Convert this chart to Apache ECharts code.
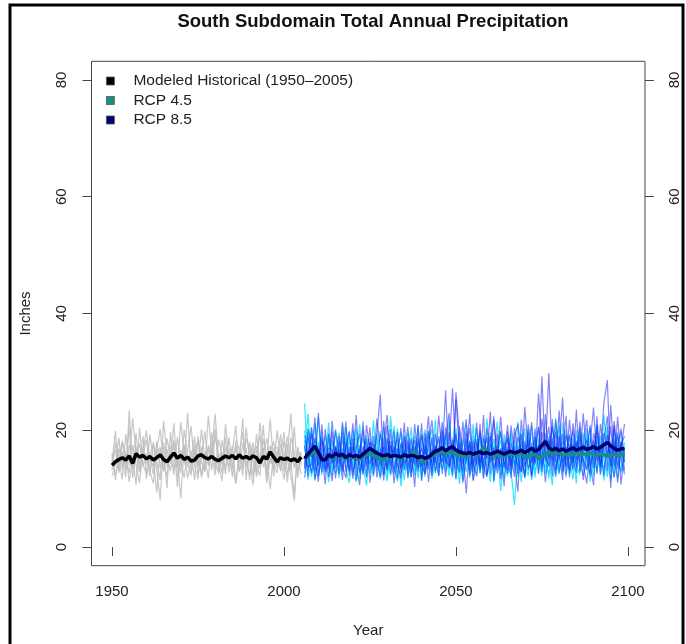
<!DOCTYPE html>
<html>
<head>
<meta charset="utf-8">
<script src="https://cdn.jsdelivr.net/npm/echarts@6.0.0/dist/echarts.min.js"></script>
<style>
  html, body { margin: 0; padding: 0; background: #fff; }
  #chart { width: 686px; height: 644px; }
</style>
</head>
<body>
<div id="chart"></div>
<script>
// years
const histYears = Array.from({ length: 56 }, (_, i) => 1950 + i);   // 1950-2005
const futureYears = Array.from({ length: 94 }, (_, i) => 2006 + i); // 2006-2099
const xTicks = [1950, 2000, 2050, 2100];
const yTicks = [0, 20, 40, 60, 80];

// modeled historical ensemble members (grey)
const hist1 = [13.2,17.8,15.1,11.6,19.4,14.0,22.1,16.3, 12.8,15.9,18.4,13.1,10.9,16.7,20.2,14.5, 12.0,17.3,15.8,13.6,21.4,16.0,11.8,14.9, 18.9,12.4,15.5,19.8,13.9,16.6,22.8,14.2, 11.3,17.1,15.0,13.4,18.2,16.9,12.2,20.5, 14.8,10.6,16.4,19.1,13.7,15.3,21.9,14.1, 12.7,17.6,15.6,11.1,18.7,16.2,13.0,15.7];
const hist2 = [16.1,12.3,14.7,18.2,13.5,20.6,11.9,15.4, 17.7,14.0,12.6,19.3,15.2,9.4,16.8,13.3, 18.6,15.0,21.2,12.1,14.4,17.0,13.8,16.5, 11.4,19.0,14.6,12.9,17.4,15.7,20.3,13.0, 16.2,12.5,18.8,14.3,10.8,16.0,19.6,13.7, 15.5,17.9,12.0,14.9,20.9,11.7,16.3,18.1, 13.6,15.8,19.7,12.4,14.6,8.8,17.2,14.0];
const hist3 = [14.5,19.9,12.7,16.4,13.1,17.5,15.2,10.7, 20.4,13.9,16.1,12.2,18.0,14.7,11.5,21.6, 15.6,13.0,17.8,10.3,16.6,14.1,23.0,12.8, 15.9,18.3,11.9,14.4,16.9,13.2,19.2,15.1, 12.6,21.1,14.9,17.3,11.0,15.8,13.5,18.5, 16.7,12.1,19.4,14.2,17.0,10.9,15.4,13.3, 20.0,14.8,11.6,16.1,22.9,13.8,15.3,12.5];
const hist4 = [12.1,14.2,18.7,13.4,16.0,11.2,14.8,19.5, 13.0,17.2,14.3,15.8,12.5,18.1,13.6,16.2, 10.1,19.7,13.2,15.4,8.3,17.6,14.0,12.3, 16.8,13.7,20.1,15.2,11.8,17.9,14.5,12.6, 18.3,15.1,13.8,16.5,20.8,12.9,14.7,17.0, 11.5,16.9,14.0,12.2,18.5,15.6,9.9,16.4, 14.3,19.3,12.9,17.7,13.1,20.6,11.9,16.1];
const hist5 = [15.8,11.4,16.9,14.6,12.0,23.4,13.3,17.1, 14.2,19.0,11.7,15.5,17.6,13.4,8.1,17.9, 13.7,16.2,12.4,18.9,14.8,11.9,16.4,20.7, 14.0,11.6,17.2,13.1,22.5,16.0,12.3,18.4, 15.7,13.6,16.8,12.0,17.5,14.4,22.0,11.4, 18.0,14.5,12.8,21.3,15.9,13.2,17.4,12.1, 16.6,13.0,18.2,14.9,12.3,7.9,16.7,14.4];
const hist6 = [14.9,16.6,13.0,18.1,15.7,12.6,17.4,14.1, 11.0,16.4,20.0,15.1,13.8,15.9,17.1,12.9, 16.7,14.3,18.3,15.2,12.7,20.1,15.5,13.9, 17.5,14.8,12.5,16.3,14.2,19.6,13.5,16.0, 14.1,18.7,12.8,15.6,16.7,13.0,17.8,14.6, 12.4,15.9,17.3,13.6,16.1,18.6,14.3,16.8, 17.1,13.2,15.2,18.9,16.0,13.5,14.9,16.3];

// RCP 4.5 ensemble members (cyan)
const rcp45a = [24.6,13.2,17.9,11.4,15.8,19.7,12.6,16.3,14.1,20.2, 11.8,16.9,14.4,18.6,12.3,15.1,21.0,13.7,10.5,17.4, 15.2,19.3,12.9,16.0,13.6,22.4,14.8,11.2,17.7,15.4, 12.7,18.1,14.2,20.8,11.5,16.6,13.9,18.9,15.0,12.1, 17.5,14.6,21.6,13.0,16.2,10.8,18.4,15.7,12.6,19.1, 14.3,16.8,11.9,22.0,15.5,13.4,17.2,9.6,16.1,18.7, 13.1,7.2,15.9,19.5,14.0,12.2,17.8,15.3,20.6,13.5, 16.4,11.7,18.2,14.7,12.4,21.3,15.6,13.3,17.1,10.9, 19.8,14.5,16.7,12.0,18.0,15.1,13.6,22.7,14.9,11.3, 17.6,15.8,12.8,16.5];
const rcp45b = [14.1,19.8,12.0,16.7,22.3,13.5,15.9,11.1,18.4,14.6, 17.2,12.8,20.5,15.3,13.9,18.0,11.6,16.4,19.1,13.0, 21.7,14.4,16.9,12.5,18.8,15.0,13.2,17.6,10.4,16.2, 19.5,13.7,15.6,11.8,17.3,20.1,14.0,12.4,16.8,18.5, 13.3,15.9,12.2,18.7,14.8,17.0,11.4,20.9,15.2,13.6, 17.9,12.7,15.4,13.8,19.6,11.0,16.3,18.2,14.5,12.1, 16.0,14.2,21.4,12.9,15.7,18.6,11.5,16.9,14.0,17.3, 12.6,19.0,15.1,22.1,13.4,15.8,11.9,17.7,14.3,20.0, 13.1,16.6,18.9,11.2,15.4,17.5,12.3,16.1,19.4,13.9, 15.0,11.7,18.1,14.4];
const rcp45c = [18.3,11.5,15.2,21.2,13.8,16.5,19.0,14.0,12.2,17.1, 15.0,20.9,13.3,11.0,16.7,18.9,14.5,12.6,17.8,15.6, 12.0,16.4,19.9,14.1,11.3,17.3,15.8,20.3,13.6,18.0, 14.8,11.9,17.0,15.4,19.3,13.1,16.9,14.3,21.8,12.7, 15.9,19.4,13.8,16.4,11.6,17.8,14.9,12.9,18.2,15.5, 20.4,14.0,17.5,12.3,15.1,18.5,13.2,16.6,11.8,15.8, 18.8,13.9,16.2,11.1,17.6,14.5,20.7,12.6,16.0,13.7, 17.9,15.3,10.6,16.8,19.2,14.1,17.0,12.5,15.7,18.3, 14.7,12.2,17.2,20.4,13.5,16.3,19.0,14.8,12.0,17.7, 13.4,19.1,15.6,12.9];
const rcp45d = [12.7,16.0,20.4,14.3,18.1,12.4,15.6,19.2,13.1,16.8, 19.6,14.2,16.1,12.9,20.0,13.4,17.5,15.0,12.1,18.6, 14.0,17.1,13.5,20.6,15.6,12.2,18.3,14.7,16.5,11.4, 17.4,15.1,12.3,18.2,13.6,15.9,19.7,11.7,14.4,17.0, 20.2,12.8,15.5,17.7,14.1,19.8,12.0,16.1,13.9,21.1, 12.5,18.8,14.6,16.3,11.2,17.4,15.0,19.9,13.3,16.7, 14.1,18.3,12.0,15.4,20.3,13.0,16.8,11.9,18.5,15.2, 13.6,17.2,20.8,12.4,16.0,18.1,13.9,15.5,11.6,17.8, 16.0,19.6,13.3,15.9,12.1,18.4,14.6,16.9,20.5,12.8, 18.6,13.9,16.4,14.7];
const rcp45e = [16.5,22.8,14.6,12.8,17.3,15.0,13.3,18.5,16.1,12.6, 13.9,18.3,15.7,19.7,14.0,11.2,16.2,18.8,14.4,12.7, 17.6,13.0,15.5,18.6,12.1,16.0,20.7,13.5,14.9,19.2, 12.3,16.6,19.0,13.4,15.8,12.0,17.6,20.2,13.0,15.7, 14.4,18.0,16.7,11.9,19.5,13.7,15.8,18.5,12.3,14.6, 16.9,13.1,19.2,15.3,17.7,12.8,14.5,13.2,19.3,14.0, 12.5,16.6,14.8,17.9,11.8,16.1,13.4,19.0,15.6,12.2, 19.5,14.0,16.3,13.0,17.4,12.7,20.1,15.2,18.6,14.1, 12.4,17.7,15.0,18.8,13.7,21.0,16.2,13.4,15.8,18.1, 12.0,16.9,19.7,15.3];
const rcp45f = [20.0,14.8,13.0,18.8,12.1,16.9,14.5,21.3,12.9,15.3, 12.4,15.6,18.9,13.4,16.5,20.3,12.9,14.8,17.2,15.5, 13.3,18.7,11.6,15.2,17.4,14.1,12.4,16.1,19.6,13.2, 16.2,20.5,13.1,16.5,12.4,18.7,15.0,13.3,17.3,14.8, 18.9,13.6,17.2,15.1,20.4,12.6,16.6,14.2,17.9,11.5, 15.6,19.5,13.0,17.3,14.4,16.0,21.5,12.4,17.5,14.9, 19.6,12.9,17.4,14.3,16.5,20.1,14.7,18.0,12.7,16.4, 15.0,12.3,17.5,15.6,20.9,13.5,16.6,19.3,13.0,15.4, 18.2,13.8,20.2,14.6,17.0,12.9,18.1,11.4,16.7,14.3, 20.2,14.2,13.1,17.9];

// RCP 8.5 ensemble members (blue)
const rcp85a = [13.6,18.9,15.4,22.2,12.2,16.0,10.7,19.5,14.3,17.0, 12.6,21.4,15.8,13.1,18.6,11.4,16.5,20.1,13.8,17.7, 14.9,19.2,26.1,12.3,16.4,18.1,10.9,15.6,20.4,13.2, 17.9,12.0,21.1,15.2,13.9,19.5,11.1,16.8,14.4,22.5, 15.7,26.8,13.4,18.3,11.6,20.7,16.1,9.2,17.6,14.0, 21.3,12.7,18.6,15.1,23.2,11.3,16.9,19.8,13.6,17.1, 11.8,20.4,15.5,13.0,24.0,16.6,12.3,18.8,15.0,29.2, 14.6,18.4,12.1,21.7,15.9,11.5,19.2,16.8,13.4,23.5, 12.8,17.5,21.8,14.1,10.6,19.7,15.3,24.6,28.6,13.7, 18.2,11.0,16.7,21.1];
const rcp85b = [17.4,12.1,20.5,14.6,11.2,18.3,15.9,13.3,21.6,15.0, 19.0,14.0,11.8,17.1,15.2,22.6,12.7,16.0,18.5,11.0, 16.8,13.7,19.4,15.9,20.8,12.5,17.2,14.2,11.8,18.9, 13.5,16.9,10.3,18.7,14.1,12.6,17.8,21.7,15.6,12.2, 19.8,14.3,17.0,27.2,15.4,12.8,21.5,14.7,18.2,11.3, 15.2,19.9,14.1,12.0,17.3,21.8,15.5,13.7,18.0,12.6, 17.8,14.6,9.5,19.3,13.8,16.0,21.4,14.4,17.5,12.9, 22.8,15.1,18.7,13.2,17.0,25.6,12.4,16.4,20.0,14.9, 17.3,11.5,16.0,20.9,13.5,22.4,12.6,18.0,15.6,20.7, 13.9,22.3,15.0,12.5];
const rcp85c = [11.9,16.2,19.3,13.0,23.0,14.4,17.6,12.0,15.8,19.9, 16.4,11.5,18.0,14.5,21.2,13.6,10.6,17.3,15.0,20.5, 12.4,16.6,14.0,21.6,13.1,17.4,15.3,19.7,12.6,16.1, 20.6,14.5,17.3,12.9,19.1,15.9,22.4,13.4,16.2,19.0, 12.5,18.6,22.9,14.0,25.3,16.4,13.0,19.6,11.9,16.8, 18.5,13.6,22.6,12.3,16.2,14.8,19.4,11.6,15.7,20.9, 13.9,17.2,12.5,21.8,14.9,18.1,11.9,16.3,20.6,14.2, 16.0,29.8,15.4,12.0,18.9,14.4,17.1,13.1,21.2,16.6, 20.4,15.0,13.2,17.6,23.9,14.7,16.8,12.2,19.2,15.4, 11.9,17.5,20.3,14.6];
const rcp85d = [15.2,13.7,14.1,18.6,16.1,12.9,20.2,14.8,11.3,17.3, 14.3,19.6,12.9,16.3,11.7,17.0,19.4,12.4,15.9,14.2, 19.0,11.9,15.5,17.2,13.2,20.2,12.8,16.9,14.6,21.3, 11.8,15.6,18.3,13.7,21.2,12.4,15.8,14.6,19.4,13.5, 16.9,12.0,19.7,15.8,13.3,17.9,11.0,15.3,22.8,14.4, 12.1,16.5,13.5,20.4,14.7,17.0,12.6,15.8,10.4,18.6, 15.4,12.0,18.9,16.2,11.9,21.0,16.8,14.1,26.3,17.6, 11.1,16.9,20.5,17.3,12.8,16.2,22.5,11.9,17.7,13.6, 19.1,14.2,10.9,16.4,18.4,12.5,21.1,16.7,13.0,24.3, 15.8,19.6,10.7,17.0];
const rcp85e = [19.1,15.6,12.6,16.8,14.0,21.0,13.4,17.0,16.6,11.8, 18.1,15.1,21.5,12.2,17.3,14.7,16.8,13.0,20.9,16.3, 13.8,22.0,16.9,11.4,18.5,15.0,19.8,11.7,17.9,14.4, 15.0,18.7,14.0,20.9,11.3,17.5,13.3,18.6,12.7,16.3, 21.4,15.1,13.8,16.5,19.3,14.5,17.7,21.9,13.2,18.1, 14.0,21.1,11.7,16.7,19.0,13.5,15.4,22.3,14.8,13.0, 20.8,16.3,14.0,12.8,18.2,13.4,15.0,20.3,12.5,19.7, 15.8,13.7,21.9,14.6,23.4,12.9,15.6,19.1,14.5,18.0, 14.6,22.9,15.6,12.4,19.5,16.8,14.1,18.3,22.4,10.1, 21.6,15.2,18.0,13.3];
const rcp85f = [13.4,20.3,17.1,11.6,15.4,18.8,12.9,14.4,19.8,13.5, 16.7,13.0,17.2,19.9,12.8,15.6,14.1,21.5,11.9,18.0, 17.5,14.6,12.0,17.8,22.6,13.9,16.5,18.5,13.4,15.9, 18.4,12.8,16.1,14.6,17.0,14.0,19.9,12.2,17.4,16.0, 14.6,20.5,15.3,12.4,26.5,19.1,14.2,16.9,20.4,12.8, 17.9,14.5,16.1,18.8,12.5,22.4,13.8,17.0,15.2,19.7, 13.2,18.9,21.1,15.5,12.1,19.6,14.3,17.2,14.8,22.0, 17.2,20.6,13.8,19.8,14.9,19.4,13.7,21.8,15.1,12.7, 21.5,16.3,18.4,13.9,16.0,20.8,13.6,19.5,17.1,15.9, 20.9,13.4,17.4,19.0];

// ensemble means
const histMean = [14.0,14.6,15.0,15.3,14.9,15.6,14.3,16.0, 15.4,15.7,15.1,15.5,14.9,15.3,15.8,15.0, 14.6,15.4,16.1,15.2,15.7,15.0,15.4,14.7, 14.9,15.6,15.8,15.3,15.1,15.5,15.0,14.8, 15.2,15.6,15.3,15.7,15.1,15.8,15.2,15.5, 15.1,15.6,15.3,14.4,15.5,15.1,16.3,15.4, 14.6,15.3,15.0,15.2,14.8,15.1,14.6,15.4];
const rcp45Mean = [15.0,15.6,16.0,16.4,15.7,15.1,15.3,15.6,15.2,15.7, 15.4,15.6,15.1,15.5,15.3,15.4,15.0,15.5,15.8,16.1, 15.7,15.3,15.0,14.9,15.2,15.6,15.9,15.4,15.1,15.5, 15.8,15.3,16.6,15.2,14.6,15.0,15.3,15.6,15.9,16.2, 16.4,16.0,16.3,16.1,15.8,15.6,15.9,15.5,15.8,16.0, 15.7,16.2,17.1,16.4,15.8,15.5,15.9,15.7,15.6,15.8, 16.0,15.7,15.9,16.2,15.6,15.4,15.8,15.9,15.3,15.5, 15.8,16.3,15.9,16.5,16.1,15.7,16.0,15.6,15.9,16.2, 15.8,16.0,15.7,16.1,15.9,15.6,16.0,15.8,15.5,15.7, 15.9,15.6,15.8,16.0];
const rcp85Mean = [15.2,15.9,16.6,17.3,16.2,15.0,14.9,15.8,15.4,16.1, 15.6,15.9,15.3,15.8,15.5,15.7,15.4,15.9,16.4,16.9, 16.5,16.1,15.8,15.6,15.9,15.5,15.7,15.6,15.4,15.8, 15.5,15.7,15.6,15.3,15.5,15.2,15.4,15.9,16.4,16.6, 17.0,16.5,16.9,17.2,16.6,16.3,16.1,16.0,16.2,15.9, 16.1,16.3,16.0,16.2,15.9,16.1,16.4,16.2,15.9,16.2, 16.4,16.1,16.3,16.6,16.2,16.5,16.9,16.4,16.7,17.4, 18.1,17.0,16.6,16.9,16.5,16.8,16.4,16.7,17.0,16.6, 16.8,17.1,16.7,16.9,17.2,16.8,17.1,17.5,17.9,17.3, 16.9,16.6,16.8,16.9];

const histMembers = [hist1, hist2, hist3, hist4, hist5, hist6];
const rcp45Members = [rcp45a, rcp45b, rcp45c, rcp45d, rcp45e, rcp45f];
const rcp85Members = [rcp85a, rcp85b, rcp85c, rcp85d, rcp85e, rcp85f];

const HIST_NAME = 'Modeled Historical (1950\u20132005)';
const FONT = '"Liberation Sans", Arial, Helvetica, sans-serif';

function line(name, years, vals, color, width, opacity) {
  return {
    name: name,
    type: 'line',
    data: years.map((y, i) => [y, vals[i]]),
    showSymbol: false,
    symbol: 'none',
    silent: true,
    lineStyle: { color: color, width: width, opacity: opacity },
    itemStyle: { color: color }
  };
}

const series = [];
histMembers.forEach((m, i) => series.push(line('hist' + i, histYears, m, '#bdbdbd', 1.2, 0.85)));
rcp45Members.forEach((m, i) => series.push(line('r45_' + i, futureYears, m, '#00e2ff', 1.2, 0.8)));
rcp85Members.forEach((m, i) => series.push(line('r85_' + i, futureYears, m, '#2020f5', 1.2, 0.55)));
series.push(line(HIST_NAME, histYears, histMean, '#000000', 3.5, 1));
series.push(line('RCP 4.5', futureYears, rcp45Mean, '#178f82', 3.5, 1));
series.push(line('RCP 8.5', futureYears, rcp85Mean, '#00006e', 3.5, 1));

const yAxisBase = {
  type: 'value',
  min: -3.2,
  max: 83.2,
  splitLine: { show: false },
  axisLine: { show: false },
  axisTick: { show: true, inside: false, length: 9, customValues: yTicks, lineStyle: { color: '#444' } },
  axisLabel: { customValues: yTicks, rotate: 90, margin: 22, fontSize: 15, color: '#222', fontFamily: FONT }
};

const chart = echarts.init(document.getElementById('chart'), null, { renderer: 'canvas' });
chart.setOption({
  animation: false,
  backgroundColor: '#fff',
  title: {
    text: 'South Subdomain Total Annual Precipitation',
    left: 368,
    top: 7,
    textAlign: 'center',
    textStyle: { fontSize: 18.5, fontWeight: 'bold', color: '#111', fontFamily: FONT }
  },
  legend: {
    data: [
      { name: HIST_NAME, icon: 'rect' },
      { name: 'RCP 4.5', icon: 'rect' },
      { name: 'RCP 8.5', icon: 'rect' }
    ],
    orient: 'vertical',
    left: 106,
    top: 73,
    padding: 0,
    itemWidth: 8,
    itemHeight: 8,
    itemGap: 3.5,
    itemStyle: { borderColor: '#555', borderWidth: 0.8 },
    textStyle: { fontSize: 15.5, lineHeight: 15, color: '#222', fontFamily: FONT, padding: [0, 0, 0, 14] },
    selectedMode: false
  },
  grid: {
    left: 91.5,
    right: 41,
    top: 61.3,
    bottom: 78.3,
    show: true,
    borderColor: '#444',
    borderWidth: 1,
    backgroundColor: 'transparent',
    containLabel: false,
    outerBoundsMode: 'none'
  },
  xAxis: {
    type: 'value',
    min: 1944.04,
    max: 2104.96,
    name: 'Year',
    nameLocation: 'middle',
    nameGap: 58,
    nameTextStyle: { fontSize: 15, color: '#222', fontFamily: FONT },
    splitLine: { show: false },
    axisLine: { show: false },
    axisTick: { show: true, length: 9, customValues: xTicks, lineStyle: { color: '#444' } },
    axisLabel: { customValues: xTicks, margin: 19, fontSize: 15, color: '#222', fontFamily: FONT, formatter: v => String(v) }
  },
  yAxis: [
    Object.assign({}, yAxisBase, {
      position: 'left',
      name: 'Inches',
      nameLocation: 'middle',
      nameGap: 58,
      nameTextStyle: { fontSize: 15, color: '#222', fontFamily: FONT }
    }),
    Object.assign({}, yAxisBase, { position: 'right' })
  ],
  graphic: [{
    type: 'rect',
    silent: true,
    shape: { x: 10, y: 5, width: 673, height: 700 },
    style: { fill: 'none', stroke: '#000', lineWidth: 3 }
  }],
  series: series
});
</script>
</body>
</html>
